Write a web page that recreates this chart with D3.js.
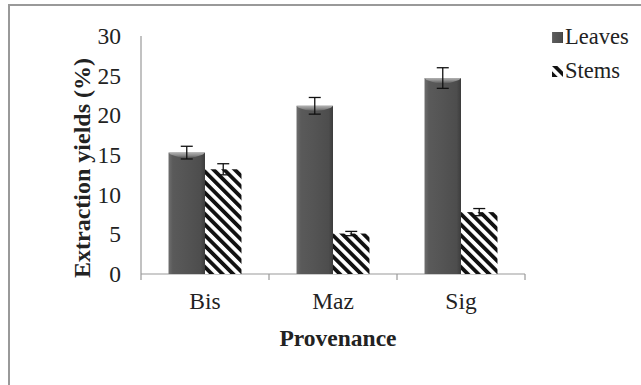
<!DOCTYPE html>
<html><head><meta charset="utf-8">
<script src="https://cdn.jsdelivr.net/npm/d3@7"></script>
<style>body{margin:0;background:#fff}svg{display:block}</style>
</head><body>
<svg id="chart" width="641" height="385"></svg>
<script>
const categories = ["Bis", "Maz", "Sig"];
const seriesNames = ["Leaves", "Stems"];
const leavesValues = [15.3, 21.2, 24.7];
const leavesErrors = [0.8, 1.05, 1.3];
const stemsValues = [13.2, 5.1, 7.8];
const stemsErrors = [0.7, 0.27, 0.45];
const yTicks = [0, 5, 10, 15, 20, 25, 30];

(function () {
const svg = d3.select("#chart");
const defs = svg.append("defs");

const g1 = defs.append("linearGradient").attr("id", "leafGrad").attr("x1", "0").attr("x2", "1").attr("y1", "0").attr("y2", "0");
[[0, "#6e6e6e"], [0.12, "#5a5a5a"], [0.5, "#545454"], [0.88, "#4d4d4d"], [1, "#3c3c3c"]].forEach(s => g1.append("stop").attr("offset", s[0]).attr("stop-color", s[1]));
const g2 = defs.append("linearGradient").attr("id", "capGrad").attr("x1", "0").attr("x2", "0").attr("y1", "0").attr("y2", "1");
[[0, "#b0b0b0"], [0.5, "#8a8a8a"], [1, "#545454"]].forEach(s => g2.append("stop").attr("offset", s[0]).attr("stop-color", s[1]));

const pat = defs.append("pattern").attr("id", "stripes").attr("patternUnits", "userSpaceOnUse")
  .attr("width", 7.5).attr("height", 7.5).attr("patternTransform", "rotate(-45)");
pat.append("rect").attr("width", 7.5).attr("height", 7.5).attr("fill", "#fff");
pat.append("rect").attr("width", 3.8).attr("height", 7.5).attr("fill", "#111");

svg.append("rect").attr("x", 9).attr("y", 5).attr("width", 700).attr("height", 500)
  .attr("fill", "none").attr("stroke", "#999").attr("stroke-width", 2);

const mLeft = 141, mRight = 525, mTop = 36, mBottom = 274;
const x = d3.scaleBand().domain(categories).range([mLeft, mRight]).paddingInner(0.43).paddingOuter(0.215);
const x1 = d3.scaleBand().domain(seriesNames).range([0, x.bandwidth()]);
const y = d3.scaleLinear().domain([0, 30]).range([mBottom, mTop]);

const serif = "'Liberation Serif', 'Times New Roman', serif";
const fs = 23.5;

const yAxis = svg.append("g").attr("transform", `translate(${mLeft},0)`)
  .call(d3.axisLeft(y).tickValues(yTicks).tickSize(0).tickPadding(20));
yAxis.select(".domain").remove();
yAxis.selectAll("text").attr("font-family", serif).attr("font-size", fs).attr("fill", "#222");
svg.append("line").attr("x1", mLeft).attr("x2", mLeft).attr("y1", y(30)).attr("y2", y(0))
  .attr("stroke", "#999").attr("stroke-width", 1.2);

const xAxis = svg.append("g").attr("transform", `translate(0,${mBottom})`)
  .call(d3.axisBottom(x).tickSize(0).tickPadding(18));
xAxis.select(".domain").remove();
xAxis.selectAll("text").attr("font-family", serif).attr("font-size", fs).attr("fill", "#222");
svg.append("line").attr("x1", mLeft).attr("x2", mRight).attr("y1", mBottom).attr("y2", mBottom)
  .attr("stroke", "#999").attr("stroke-width", 1.2);
const bounds = d3.range(categories.length + 1).map(i => mLeft + i * x.step());
svg.selectAll("line.xt").data(bounds).join("line").attr("class", "xt")
  .attr("x1", d => d).attr("x2", d => d).attr("y1", mBottom).attr("y2", mBottom + 6)
  .attr("stroke", "#999").attr("stroke-width", 1.2);

const rows = categories.map((c, i) => ({
  cat: c,
  vals: [
    { s: "Leaves", v: leavesValues[i], e: leavesErrors[i] },
    { s: "Stems", v: stemsValues[i], e: stemsErrors[i] }
  ]
}));

const groups = svg.selectAll("g.grp").data(rows).join("g").attr("class", "grp")
  .attr("transform", d => `translate(${x(d.cat)},0)`);

groups.selectAll("rect.bar").data(d => d.vals).join("rect").attr("class", "bar")
  .attr("x", d => x1(d.s)).attr("width", x1.bandwidth())
  .attr("y", d => y(d.v)).attr("height", d => y(0) - y(d.v))
  .attr("fill", d => d.s === "Leaves" ? "url(#leafGrad)" : "url(#stripes)");

groups.selectAll("path.cap").data(d => d.vals.filter(v => v.s === "Leaves")).join("path").attr("class", "cap")
  .attr("d", d => {
    const x0 = x1(d.s), w = x1.bandwidth(), t = y(d.v);
    return `M${x0},${t} L${x0 + w},${t} L${x0 + w - 2},${t + 2} Q${x0 + w / 2},${t + 9} ${x0 + 2},${t + 2} Z`;
  })
  .attr("fill", "url(#capGrad)");

const eb = groups.selectAll("g.eb").data(d => d.vals).join("g").attr("class", "eb")
  .attr("transform", d => `translate(${x1(d.s) + x1.bandwidth() / 2},0)`);
eb.append("line").attr("y1", d => y(d.v + d.e)).attr("y2", d => y(d.v - d.e)).attr("stroke", "#111").attr("stroke-width", 1.3);
eb.append("line").attr("x1", -6).attr("x2", 6).attr("y1", d => y(d.v + d.e)).attr("y2", d => y(d.v + d.e)).attr("stroke", "#111").attr("stroke-width", 1.3);
eb.append("line").attr("x1", -6).attr("x2", 6).attr("y1", d => y(d.v - d.e)).attr("y2", d => y(d.v - d.e)).attr("stroke", "#111").attr("stroke-width", 1.3);

svg.append("text").attr("transform", `translate(90,168) rotate(-90)`)
  .attr("text-anchor", "middle").attr("font-family", serif).attr("font-weight", "bold")
  .attr("font-size", 24).attr("fill", "#222").text("Extraction yields (%)");
svg.append("text").attr("x", 338).attr("y", 346).attr("text-anchor", "middle")
  .attr("font-family", serif).attr("font-weight", "bold").attr("font-size", fs).attr("fill", "#222").text("Provenance");

const legend = svg.append("g").attr("transform", "translate(552,0)");
const li = legend.selectAll("g").data(seriesNames).join("g")
  .attr("transform", (d, i) => `translate(0,${32 + i * 34})`);
li.append("rect").attr("width", 11).attr("height", 11)
  .attr("fill", d => d === "Leaves" ? "url(#leafGrad)" : "url(#stripes)");
li.append("text").attr("x", 13).attr("y", 12).attr("font-family", serif).attr("font-size", 22.5)
  .attr("fill", "#222").text(d => d);
})();
</script>
</body></html>
